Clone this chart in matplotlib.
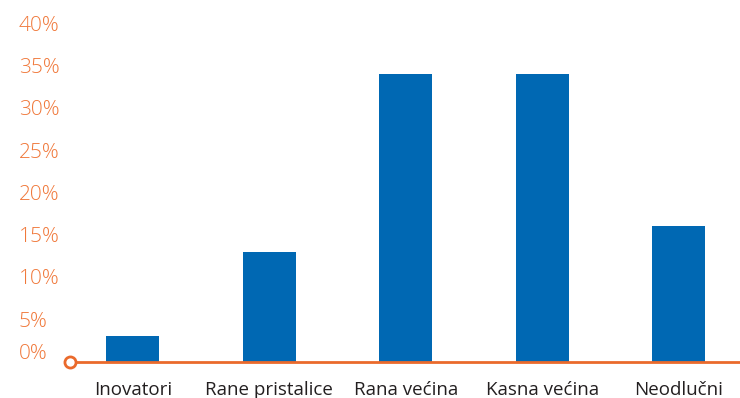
import matplotlib.pyplot as plt
import matplotlib.transforms as mtransforms

categories = ["Inovatori", "Rane pristalice", "Rana većina", "Kasna većina", "Neodlučni"]
values = [3, 13, 34, 34, 16]
yticks = [0, 5, 10, 15, 20, 25, 30, 35, 40]
ytick_labels = [f"{t}%" for t in yticks]

bar_color = "#0068b3"
orange = "#f0783a"
axis_orange = "#ea6a2c"

fig = plt.figure(figsize=(7.4, 3.98), dpi=100)
ax = fig.add_axes([0.0946, 0.0917, 0.9054, 0.85])

ax.bar(range(len(categories)), values, width=0.39, color=bar_color, zorder=2)

ax.set_xlim(-0.46, 4.45)
ax.set_ylim(0, 40)

for side in ("top", "right", "left"):
    ax.spines[side].set_visible(False)
ax.spines["bottom"].set_color(axis_orange)
ax.spines["bottom"].set_linewidth(2)
ax.spines["bottom"].set_zorder(3)

# open circle at the left end of the axis line
ax.plot([-0.46], [0], marker="o", markersize=8, markerfacecolor="white",
        markeredgecolor=axis_orange, markeredgewidth=2, clip_on=False, zorder=4)

ax.set_xticks(range(len(categories)))
ax.set_xticklabels(categories, fontsize=13.5, color="#231f20", family="Open Sans")
ax.tick_params(axis="x", length=0, pad=14)

# y labels are left-aligned in the reference
ax.set_yticks(yticks)
ax.set_yticklabels(ytick_labels, fontsize=15, color=orange, family="Open Sans",
                   fontweight="light", ha="left")
ax.tick_params(axis="y", length=0, pad=37)

# 0% label sits a little above the axis line
lbl = ax.get_yticklabels()[0]
lbl.set_transform(lbl.get_transform() + mtransforms.ScaledTranslation(0, 10 / 100, fig.dpi_scale_trans))

fig.savefig("out.png", dpi=100)
